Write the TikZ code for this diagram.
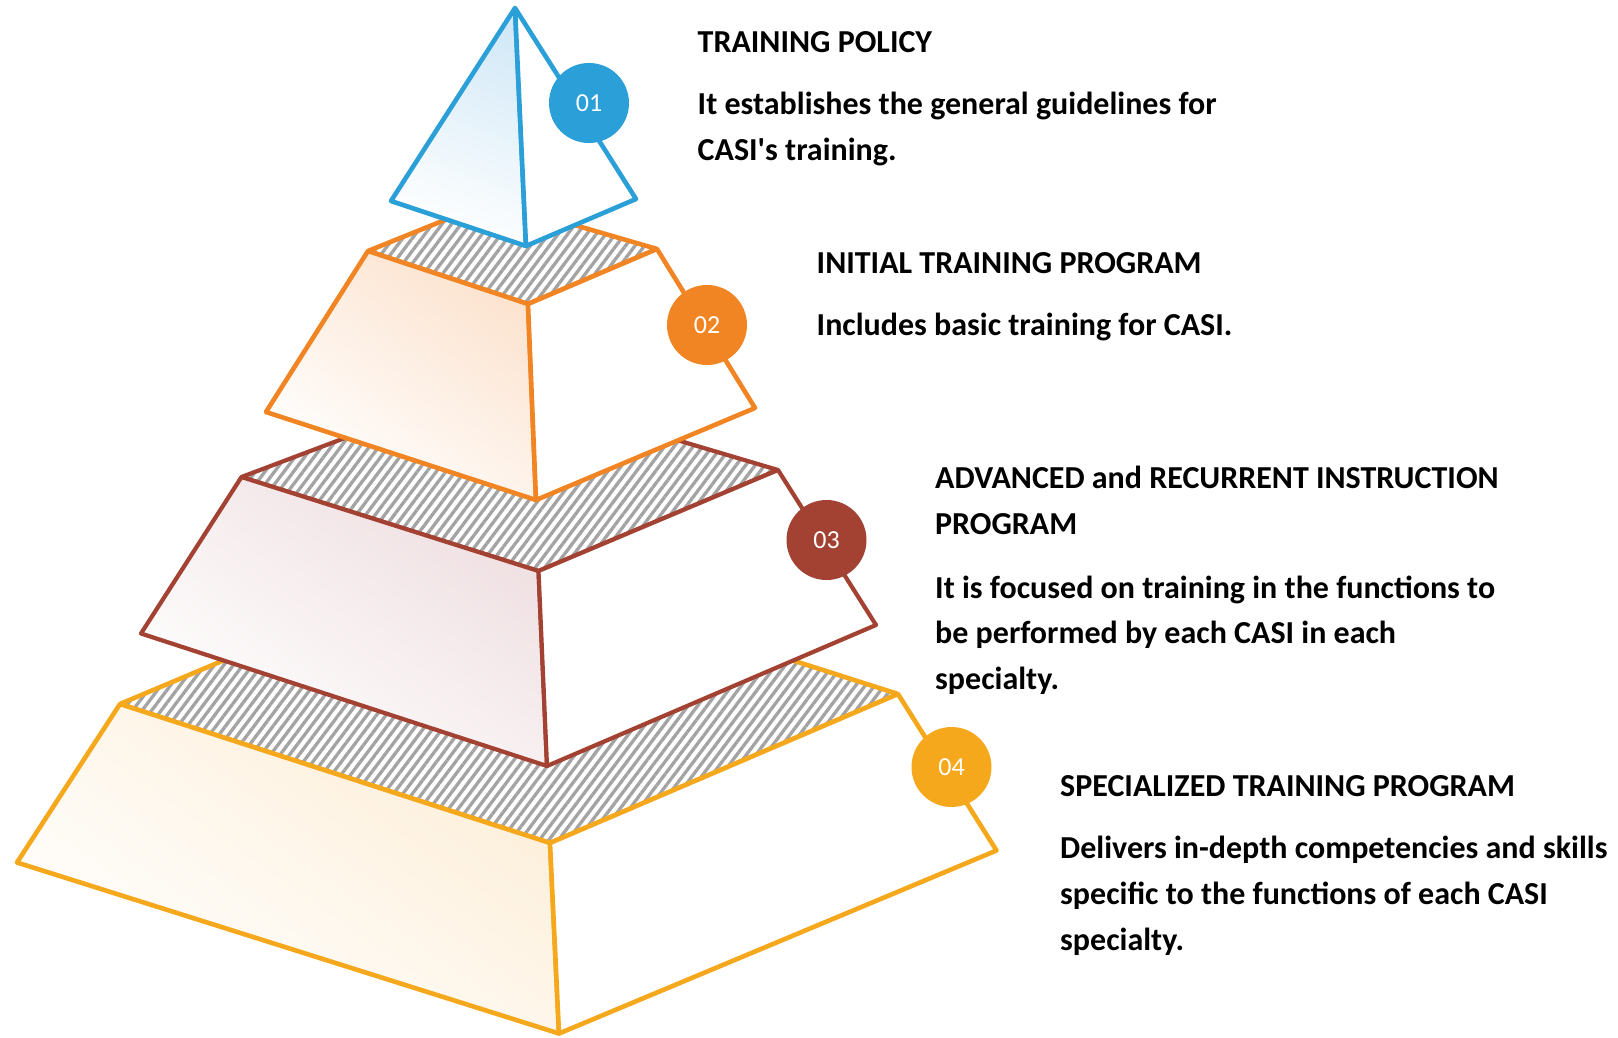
\documentclass[tikz,border=0pt]{standalone}
\usepackage{fontspec}
\setmainfont{Carlito}[Ligatures=TeXOff]
\usetikzlibrary{patterns.meta}
\definecolor{blueC}{HTML}{2A9FD8}
\definecolor{orangeC}{HTML}{F28523}
\definecolor{brownC}{HTML}{A34232}
\definecolor{yellowC}{HTML}{F6A81C}
\definecolor{hatchC}{HTML}{A3A3A3}
\definecolor{blueT}{HTML}{D3E9F7}
\definecolor{orangeT}{HTML}{FCE3CF}
\definecolor{brownT}{HTML}{EFDFE1}
\definecolor{yellowT}{HTML}{FDEFD9}
\tikzset{
  edge/.style={line width=4.6pt, line join=round, line cap=round},
  brownedge/.style={line width=4.2pt, line join=round, line cap=round},
  hatchtop/.style={pattern={Lines[angle=53,distance=7.6pt,line width=3.3pt]}, pattern color=hatchC},
  numcirc/.style={circle, minimum size=80pt, inner sep=0pt, text=white, font=\fontsize{26}{30}\selectfont},
  ttl/.style={anchor=base west, inner sep=0pt, font=\fontsize{32}{36}\selectfont\bfseries},
}
\begin{document}
\begin{tikzpicture}[x=1pt,y=-1pt]
\useasboundingbox[fill=white] (0,0) rectangle (1618,1038);

% ---------- Tier 4 (yellow) ----------
\coordinate (B4) at (469,557);
\coordinate (TL4) at (120,704);
\coordinate (TR4) at (898,694);
\coordinate (TF4) at (550,843);
\coordinate (BL4) at (17,862.5);
\coordinate (BF4) at (559,1033.5);
\coordinate (BR4) at (996.5,850.5);
\fill[white] (TL4) -- (B4) -- (TR4) -- (TF4) -- cycle;
\path[hatchtop] (TL4) -- (B4) -- (TR4) -- (TF4) -- cycle;
\draw[edge, yellowC] (TL4) -- (B4) -- (TR4) -- (TF4) -- cycle;
\path[edge, draw=yellowC, top color=yellowT, bottom color=white, shading angle=-35] (TL4) -- (TF4) -- (BF4) -- (BL4) -- cycle;
\draw[edge, yellowC, fill=white] (TF4) -- (TR4) -- (BR4) -- (BF4) -- cycle;

% ---------- Tier 3 (brown) ----------
\coordinate (B3) at (488,384);
\coordinate (TL3) at (241.5,477);
\coordinate (TR3) at (778,470);
\coordinate (TF3) at (538.5,571);
\coordinate (BL3) at (141,633.5);
\coordinate (BF3) at (547,766);
\coordinate (BR3) at (876,625);
\fill[white] (TL3) -- (B3) -- (TR3) -- (TF3) -- cycle;
\path[hatchtop] (TL3) -- (B3) -- (TR3) -- (TF3) -- cycle;
\draw[brownedge, brownC] (TL3) -- (B3) -- (TR3) -- (TF3) -- cycle;
\path[brownedge, draw=brownC, top color=brownT, bottom color=white, shading angle=-35] (TL3) -- (TF3) -- (BF3) -- (BL3) -- cycle;
\draw[brownedge, brownC, fill=white] (TF3) -- (TR3) -- (BR3) -- (BF3) -- cycle;

% ---------- Tier 2 (orange) ----------
\coordinate (B2) at (492,201);
\coordinate (TL2) at (368,251);
\coordinate (TR2) at (657,249);
\coordinate (TF2) at (528,304);
\coordinate (BL2) at (266,412);
\coordinate (BF2) at (536,500);
\coordinate (BR2) at (755,408);
\fill[white] (TL2) -- (B2) -- (TR2) -- (TF2) -- cycle;
\path[hatchtop] (TL2) -- (B2) -- (TR2) -- (TF2) -- cycle;
\draw[edge, orangeC] (TL2) -- (B2) -- (TR2) -- (TF2) -- cycle;
\path[edge, draw=orangeC, top color=orangeT, bottom color=white, shading angle=-35] (TL2) -- (TF2) -- (BF2) -- (BL2) -- cycle;
\draw[edge, orangeC, fill=white] (TF2) -- (TR2) -- (BR2) -- (BF2) -- cycle;

% ---------- Top pyramid (blue) ----------
\coordinate (A1) at (515,8);
\coordinate (L1) at (391,201);
\coordinate (F1) at (526,246);
\coordinate (R1) at (636,199);
\path[edge, draw=blueC, top color=blueT, bottom color=white, shading angle=-20] (A1) -- (F1) -- (L1) -- cycle;
\draw[edge, blueC, fill=white] (A1) -- (R1) -- (F1) -- cycle;

% ---------- Number circles ----------
\node[numcirc, fill=blueC] (c1) at (589,103) {01};
\node[numcirc, fill=orangeC] (c2) at (707,325) {02};
\node[numcirc, fill=brownC] (c3) at (826.5,540) {03};
\node[numcirc, fill=yellowC] (c4) at (951.5,767) {04};

% ---------- Texts ----------
\node[ttl] (t1a) at (697.5,52.7) {TRAINING POLICY};
\node[ttl] (t1b) at (697.5,114.5) {It establishes the general guidelines for};
\node[ttl] (t1c) at (697.5,160.5) {CASI's training.};

\node[ttl] (t2a) at (816.5,273.3) {INITIAL TRAINING PROGRAM};
\node[ttl] (t2b) at (816.5,335) {Includes basic training for CASI.};

\node[ttl] (t3a) at (935,488) {ADVANCED and RECURRENT INSTRUCTION};
\node[ttl] (t3b) at (935,534.5) {PROGRAM};
\node[ttl] (t3c) at (935,598) {It is focused on training in the functions to};
\node[ttl] (t3d) at (935,643) {be performed by each CASI in each};
\node[ttl] (t3e) at (935,689) {specialty.};

\node[ttl] (t4a) at (1060,796) {SPECIALIZED TRAINING PROGRAM};
\node[ttl] (t4b) at (1060,858) {Delivers in-depth competencies and skills};
\node[ttl] (t4c) at (1060,904) {specific to the functions of each CASI};
\node[ttl] (t4d) at (1060,950) {specialty.};
\end{tikzpicture}
\end{document}
